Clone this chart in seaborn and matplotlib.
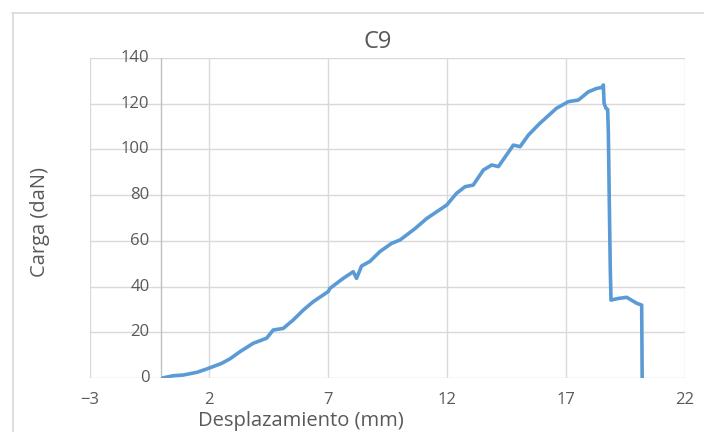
import numpy as np
import pandas as pd
import seaborn as sns
from matplotlib import pyplot as plt

# curva C9
desplazamiento = [0.05, 0.5, 0.92, 1.5, 1.97, 2.53, 2.9, 3.3, 3.86, 4.42, 4.7, 5.12,
                  5.54, 5.96, 6.38, 7.01, 7.08, 7.64, 8.06, 8.2, 8.41, 8.76, 9.18,
                  9.67, 10.03, 10.66, 11.15, 11.99, 12.4, 12.76, 13.1, 13.53, 13.88,
                  14.16, 14.79, 15.07, 15.42, 15.9, 16.6, 17.1, 17.52, 17.94, 18.29,
                  18.5, 18.57, 18.6, 18.68, 18.75, 18.78, 18.82, 18.86, 18.89, 19.2,
                  19.55, 19.97, 20.18, 20.2]
carga = [0.0, 1.0, 1.3, 2.5, 4.2, 6.4, 8.5, 11.5, 15.2, 17.4, 21.0, 21.7,
         25.4, 29.7, 33.4, 37.8, 39.2, 43.6, 46.5, 43.6, 49.0, 51.0, 55.3,
         58.9, 60.4, 65.4, 69.8, 75.7, 80.8, 83.7, 84.4, 91.0, 93.2,
         92.5, 101.9, 101.2, 106.3, 111.4, 118.0, 120.9, 121.6, 125.2, 126.7,
         127.1, 128.2, 120.2, 118.0, 117.5, 107.0, 76.4, 48.0, 34.1, 34.8,
         35.3, 32.7, 31.9, 0.0]

x_ticks = [-3, 2, 7, 12, 17, 22]
y_ticks = [0, 20, 40, 60, 80, 100, 120, 140]

df = pd.DataFrame({'Desplazamiento': desplazamiento, 'Carga': carga})

sns.set_style("white")
plt.rcParams['font.family'] = ['Open Sans', 'DejaVu Sans']
gris = '#595959'
linea = '#d9d9d9'

fig = plt.figure(figsize=(7.04, 4.32), dpi=100)
ax = fig.add_axes([90 / 704, 1 - 378 / 432, 595 / 704, 320 / 432])

sns.lineplot(data=df, x='Desplazamiento', y='Carga', ax=ax, sort=False,
             estimator=None, color='#5b9bd5', linewidth=2.6, zorder=3)

ax.set_xlim(-3, 22)
ax.set_ylim(0, 140)
ax.set_xticks(x_ticks)
ax.set_yticks(y_ticks)
ax.grid(True, color=linea, linewidth=1)
for s in ax.spines.values():
    s.set_visible(False)
ax.axvline(0, color='#bfbfbf', linewidth=1, zorder=2)
ax.tick_params(length=0, labelsize=12, labelcolor=gris)
ax.tick_params(axis='x', pad=10)
ax.set_yticklabels([])
for v in y_ticks:
    ax.text(-0.5, v, str(v), ha='right', va='center', fontsize=12, color=gris)
ax.set_xlabel('')
ax.set_ylabel('')

fig.text(378 / 704, 1 - 42 / 432, 'C9', ha='center', va='center', fontsize=17, color=gris)
fig.text(40 / 704, 1 - 222 / 432, 'Carga (daN)', rotation=90, ha='center', va='center',
         fontsize=14.5, color=gris)
fig.text(301 / 704, 1 - 421 / 432, 'Desplazamiento (mm)', ha='center', va='center',
         fontsize=14.5, color=gris)

# borde del area del grafico
fig.add_artist(plt.Line2D([12 / 704, 1], [1 - 13 / 432, 1 - 13 / 432], color=linea, linewidth=1.2))
fig.add_artist(plt.Line2D([13 / 704, 13 / 704], [0, 1 - 13 / 432], color=linea, linewidth=1.2))

fig.savefig('out.png', dpi=100)
